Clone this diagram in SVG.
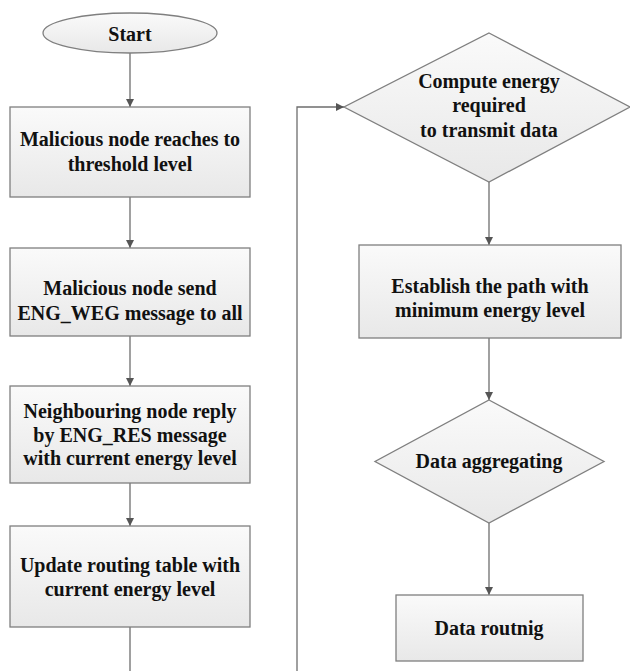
<svg xmlns="http://www.w3.org/2000/svg" width="630" height="671" viewBox="0 0 630 671">
<style>
.shape{fill:url(#g);stroke:#7f7f7f;stroke-width:1.3}
.t{font-family:'Liberation Serif','Times New Roman','DejaVu Serif',serif;font-weight:700;font-size:20px;fill:#111;text-anchor:middle}
.c{fill:none;stroke:#6e6e6e;stroke-width:1.3}
</style>
<defs>
<linearGradient id="g" x1="0" y1="0" x2="0" y2="1">
<stop offset="0" stop-color="#fafafa"/>
<stop offset="1" stop-color="#e8e8e8"/>
</linearGradient>
<marker id="a" viewBox="0 0 8 8" refX="8" refY="4" markerWidth="8" markerHeight="8" markerUnits="userSpaceOnUse" orient="auto">
<path d="M0,0 L8,4 L0,8 Z" fill="#555"/>
</marker>
</defs>
<rect width="630" height="671" fill="#fff"/>
<g id="connectors">
<line class="c" x1="130" y1="53" x2="130" y2="107" marker-end="url(#a)"/>
<line class="c" x1="130" y1="197" x2="130" y2="248" marker-end="url(#a)"/>
<line class="c" x1="130" y1="336" x2="130" y2="386" marker-end="url(#a)"/>
<line class="c" x1="130" y1="483" x2="130" y2="526" marker-end="url(#a)"/>
<polyline class="c" points="130,627 130,690 297,690 297,107 344,107" marker-end="url(#a)"/>
<line class="c" x1="489" y1="182" x2="489" y2="245" marker-end="url(#a)"/>
<line class="c" x1="489" y1="338" x2="489" y2="400" marker-end="url(#a)"/>
<line class="c" x1="489" y1="523" x2="489" y2="595" marker-end="url(#a)"/>
</g>
<g id="start">
<ellipse class="shape" cx="130" cy="33" rx="87" ry="20"/>
<text class="t" x="130" y="41">Start</text>
</g>
<g id="n1">
<rect class="shape" x="10" y="107" width="240" height="90"/>
<text class="t" x="130" y="146">Malicious node reaches to</text>
<text class="t" x="130" y="171">threshold level</text>
</g>
<g id="n2">
<rect class="shape" x="10" y="248" width="240" height="88"/>
<text class="t" x="130" y="295">Malicious node send</text>
<text class="t" x="130" y="320">ENG_WEG message to all</text>
</g>
<g id="n3">
<rect class="shape" x="10" y="386" width="240" height="97"/>
<text class="t" x="130" y="418">Neighbouring node reply</text>
<text class="t" x="130" y="442">by ENG_RES message</text>
<text class="t" x="130" y="465">with current energy level</text>
</g>
<g id="n4">
<rect class="shape" x="10" y="526" width="240" height="101"/>
<text class="t" x="130" y="572">Update routing table with</text>
<text class="t" x="130" y="596">current energy level</text>
</g>
<g id="n5">
<polygon class="shape" points="489,33 630,107 489,182 344,107"/>
<text class="t" x="489" y="88">Compute energy</text>
<text class="t" x="489" y="112">required</text>
<text class="t" x="489" y="137">to transmit data</text>
</g>
<g id="n6">
<rect class="shape" x="359" y="245" width="262" height="93"/>
<text class="t" x="490" y="293">Establish the path with</text>
<text class="t" x="490" y="317">minimum energy level</text>
</g>
<g id="n7">
<polygon class="shape" points="489,400 604,461.5 489,523 375,461.5"/>
<text class="t" x="489" y="468">Data aggregating</text>
</g>
<g id="n8">
<rect class="shape" x="396" y="595" width="187" height="66"/>
<text class="t" x="489" y="635">Data routnig</text>
</g>
</svg>
